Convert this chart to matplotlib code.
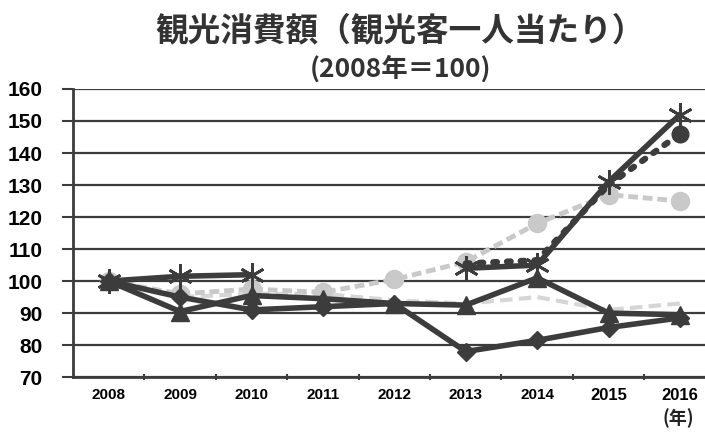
import numpy as np
import matplotlib
matplotlib.use("Agg")
import matplotlib.pyplot as plt

nan = np.nan
years = ["2008", "2009", "2010", "2011", "2012", "2013", "2014", "2015", "2016"]
star_series = [100, 101.5, 102, nan, nan, 104, 105, 131, 152]
dotted_series = [nan, nan, nan, nan, nan, 105.5, 106.5, 130, 146]
gray_series = [100, 96, 97.5, 96.5, 100.5, 106, 118, 127, 125]
gray2_series = [100, 95, 96, 96, 94, 93, 95, 91, 93]
triangle_series = [100, 90.5, 95.5, 94.5, 93, 92.5, 101, 90, 89.5]
diamond_series = [100, 95, 91, 92, 93, 78, 81.5, 85.5, 88.5]
yticks = [70, 80, 90, 100, 110, 120, 130, 140, 150, 160]
title1 = "観光消費額（観光客一人当たり）"
title2 = "(2008年＝100)"
unit = "(年)"

DARK = "#3c3c3c"
LIGHT = "#c9c9c9"
LIGHT2 = "#d6d6d6"

fig = plt.figure(figsize=(7.05, 4.34), dpi=100)
fig.patch.set_facecolor("white")
ax = fig.add_axes([0.1035, 0.131, 0.8965, 0.664])

x = np.arange(len(years))

ax.plot(x, gray2_series, color=LIGHT2, lw=3, ls=(0, (3, 1.5)), zorder=2)
ax.plot(x, gray_series, color=LIGHT, lw=3.5, ls=(0, (2, 1)), marker="o",
        ms=13, mfc=LIGHT, mec=LIGHT, zorder=3)
ax.plot(x, diamond_series, color=DARK, lw=4, marker="D", ms=9,
        mfc=DARK, mec=DARK, zorder=4)
ax.plot(x, triangle_series, color=DARK, lw=4, marker="^", ms=13,
        mfc=DARK, mec=DARK, zorder=4)
ax.plot(x, star_series, color=DARK, lw=4, marker=(6, 2, 0), ms=18,
        mew=2, mec=DARK, zorder=5)
ax.plot(x[:-1], dotted_series[:-1], color=DARK, lw=4.5, ls=(0, (0.6, 1.6)),
        dash_capstyle="round", zorder=5)
ax.plot(x[-2:], dotted_series[-2:], color=DARK, lw=4.5, ls=(0, (0.6, 1.6)),
        dash_capstyle="round", zorder=5)
ax.plot([x[-1]], [dotted_series[-1]], marker="o", ms=12, color=DARK,
        ls="none", zorder=6)

ax.set_ylim(70, 160)
ax.set_xlim(-0.5, 8.35)
ax.set_yticks(yticks)
ax.set_yticklabels([str(v) for v in yticks], fontsize=15, fontweight="bold",
                   family="Liberation Sans")
ax.set_xticks(x)
ax.set_xticklabels(years, fontsize=11, fontweight="bold",
                   family="Liberation Sans")
for lab in ax.get_xticklabels()[-2:]:
    lab.set_fontsize(12)
ax.set_xticks(np.arange(0.5, 8.5, 1), minor=True)
ax.tick_params(axis="x", which="major", length=0, pad=8)
ax.tick_params(axis="x", which="minor", length=5, direction="inout",
               color=DARK, width=1.5)
ax.tick_params(axis="y", length=8, width=1.5, color=DARK, pad=14)

ax.grid(axis="y", color=DARK, lw=1.6, zorder=0)
ax.set_axisbelow(True)
for s in ["top", "right"]:
    ax.spines[s].set_visible(False)
for s in ["left", "bottom"]:
    ax.spines[s].set_color(DARK)
    ax.spines[s].set_linewidth(2)

fig.text(0.568, 0.93, title1, ha="center", va="center", fontsize=23.5,
         fontweight="bold", color="#333333",
         family=["Noto Sans CJK JP", "DejaVu Sans"])
fig.text(0.568, 0.84, title2, ha="center", va="center", fontsize=19,
         fontweight="bold", color="#333333",
         family=["Noto Sans CJK JP", "DejaVu Sans"])
fig.text(0.962, 0.037, unit, ha="center", va="center", fontsize=13,
         fontweight="bold", color="#222222",
         family=["Noto Sans CJK JP", "DejaVu Sans"])

fig.savefig("out.png", dpi=100, facecolor="white")
